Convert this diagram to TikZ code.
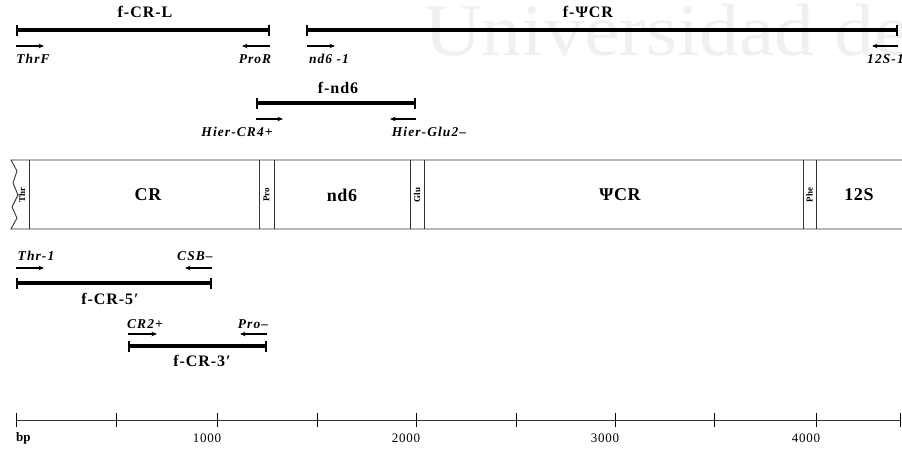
\documentclass[tikz,border=0pt]{standalone}
\usepackage{fontspec}
\setmainfont{Liberation Serif}
\usetikzlibrary{arrows.meta}
\tikzset{
  frag/.style={line width=3.8pt,{Bar[width=11pt,line width=2.2pt]}-{Bar[width=11pt,line width=2.2pt]}},
  primer/.style={line width=1.1pt,-{Stealth[length=5.5pt,width=4.5pt]}},
  fraglabel/.style={font=\bfseries\fontsize{16}{16}\selectfont\addfontfeature{LetterSpace=6},inner sep=0pt},
  primerlabel/.style={font=\bfseries\itshape\fontsize{13.5}{13.5}\selectfont\addfontfeature{LetterSpace=8},inner sep=0pt},
  genelabel/.style={font=\bfseries\fontsize{18}{18}\selectfont\addfontfeature{LetterSpace=3},inner sep=0pt},
  trna/.style={font=\bfseries\fontsize{9}{9}\selectfont,rotate=90,inner sep=0pt},
  genebox/.style={line width=0.9pt,draw=black!80},
  scalelabel/.style={font=\fontsize{13}{13}\selectfont\addfontfeature{LetterSpace=6},inner sep=0pt},
  tick/.style={line width=0.8pt}
}
\begin{document}
\begin{tikzpicture}[x=1pt,y=-1pt]
\useasboundingbox (0,0) rectangle (902,450);
% watermark
\node[text=black!6,font=\fontsize{74}{74}\selectfont,anchor=base west,inner sep=0pt,xscale=1.08] (wm) at (424,55) {Universidad de};

% f-CR-L
\coordinate (crlA) at (16,30); \coordinate (crlB) at (270,30);
\draw[frag] (crlA) -- (crlB);
\node[fraglabel] (crlL) at (145,12) {f-CR-L};
\coordinate (thrFa) at (16,46); \coordinate (thrFb) at (44,46);
\draw[primer] (thrFa) -- (thrFb);
\coordinate (proRa) at (270,46); \coordinate (proRb) at (242,46);
\draw[primer] (proRa) -- (proRb);
\node[primerlabel] (thrF) at (33,59) {ThrF};
\node[primerlabel] (proR) at (255,59) {ProR};

% f-PsiCR
\coordinate (pcrA) at (306,30); \coordinate (pcrB) at (898,30);
\draw[frag] (pcrA) -- (pcrB);
\node[fraglabel] (pcrL) at (588,12) {f-ΨCR};
\coordinate (nd6a) at (307,46); \coordinate (nd6b) at (335,46);
\draw[primer] (nd6a) -- (nd6b);
\coordinate (s12a) at (898,46); \coordinate (s12b) at (872,46);
\draw[primer] (s12a) -- (s12b);
\node[primerlabel] (nd6p) at (329,59) {nd6 -1};
\node[primerlabel,anchor=east] (s12p) at (904,59) {12S-1};

% f-nd6
\coordinate (fndA) at (256,103); \coordinate (fndB) at (416,103);
\draw[frag] (fndA) -- (fndB);
\node[fraglabel] (fndL) at (338,88) {f-nd6};
\coordinate (hcra) at (256,119); \coordinate (hcrb) at (283,119);
\draw[primer] (hcra) -- (hcrb);
\coordinate (hgla) at (416,119); \coordinate (hglb) at (390,119);
\draw[primer] (hgla) -- (hglb);
\node[primerlabel] (hcr) at (237,132) {Hier-CR4+};
\node[primerlabel] (hgl) at (429,132) {Hier-Glu2–};

% gene map
\draw[genebox] (902,160) -- (11,160) -- (17,171) -- (13,183) -- (18,195) -- (12,207) -- (17,218) -- (11,229) -- (902,229);
\foreach \x in {29,259,274,410,424,803,816}{
  \draw[genebox] (\x,160) -- (\x,229);
}
\node[trna] (tThr) at (22,195) {Thr};
\node[genelabel] (gCR) at (148,195) {CR};
\node[trna] (tPro) at (266.5,195) {Pro};
\node[genelabel] (gND) at (342,195) {nd6};
\node[trna] (tGlu) at (417,195) {Glu};
\node[genelabel] (gPCR) at (620,195) {ΨCR};
\node[trna] (tPhe) at (809.5,195) {Phe};
\node[genelabel] (g12) at (859,195) {12S};

% f-CR-5'
\node[primerlabel] (thr1) at (36,256) {Thr-1};
\node[primerlabel] (csb) at (195,256) {CSB–};
\coordinate (t1a) at (16,268); \coordinate (t1b) at (44,268);
\draw[primer] (t1a) -- (t1b);
\coordinate (csa) at (212,268); \coordinate (csbb) at (185,268);
\draw[primer] (csa) -- (csbb);
\coordinate (c5A) at (16,283); \coordinate (c5B) at (212,283);
\draw[frag] (c5A) -- (c5B);
\node[fraglabel] (c5L) at (110,299) {f-CR-5′};

% f-CR-3'
\node[primerlabel] (cr2) at (145,324) {CR2+};
\node[primerlabel] (prom) at (253,324) {Pro–};
\coordinate (c2a) at (128,334); \coordinate (c2b) at (157,334);
\draw[primer] (c2a) -- (c2b);
\coordinate (pma) at (267,334); \coordinate (pmb) at (240,334);
\draw[primer] (pma) -- (pmb);
\coordinate (c3A) at (128,346); \coordinate (c3B) at (267,346);
\draw[frag] (c3A) -- (c3B);
\node[fraglabel] (c3L) at (202,361) {f-CR-3′};

% scale
\coordinate (sA) at (16,420); \coordinate (sB) at (900,420);
\draw[line width=0.8pt,draw=black!80] (sA) -- (sB);
\foreach \x in {16,116,217,317,416,516,615,714,816,900}{
  \draw[tick] (\x,413) -- (\x,427);
}
\node[scalelabel,font=\bfseries\fontsize{13}{13}\selectfont,anchor=west] (bp) at (16,438) {bp};
\node[scalelabel] (s1) at (207,438) {1000};
\node[scalelabel] (s2) at (406,438) {2000};
\node[scalelabel] (s3) at (605,438) {3000};
\node[scalelabel] (s4) at (806,438) {4000};
\end{tikzpicture}
\end{document}
